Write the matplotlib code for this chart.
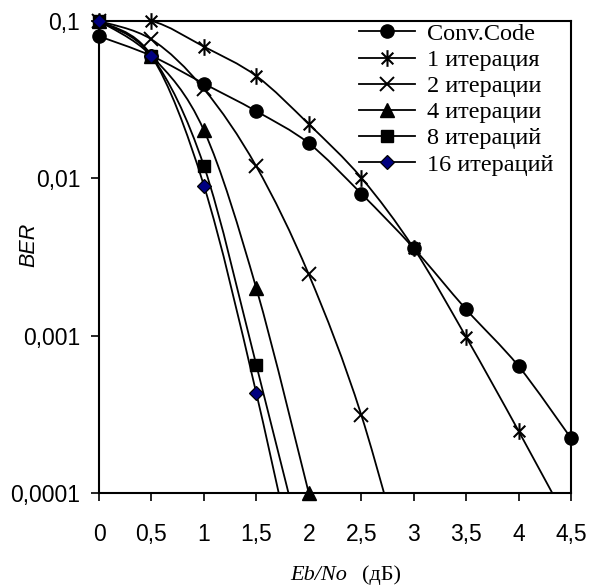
import numpy as np
import matplotlib
matplotlib.use("Agg")
import matplotlib.pyplot as plt
from matplotlib.path import Path
from matplotlib.patches import PathPatch
from matplotlib.lines import Line2D
from matplotlib.ticker import FixedLocator, NullLocator

# Eb/No, dB
ebno = [0, 0.5, 1, 1.5, 2, 2.5, 3, 3.5, 4, 4.5]

# BER values (last points of the turbo curves lie below the axis)
ber_conv = [0.08, 0.06, 0.04, 0.0267, 0.0167, 0.008, 0.0036, 0.00147, 0.00064, 0.000223]
ber_it1 = [0.1, 0.1, 0.0687, 0.0447, 0.0221, 0.0101, 0.0036, 0.00098, 0.000248, 6e-5]
ber_it2 = [0.1, 0.0764, 0.037, 0.0119, 0.00245, 0.000314, 2e-5]
ber_it4 = [0.1, 0.06, 0.0202, 0.002, 0.0001]
ber_it8 = [0.1, 0.06, 0.012, 0.00065, 3e-5]
ber_it16 = [0.1, 0.06, 0.009, 0.00043, 1.3e-5]

labels = ["Conv.Code", "1 итерация", "2 итерации", "4 итерации",
          "8 итераций", "16 итераций"]

xticks = [0, 0.5, 1, 1.5, 2, 2.5, 3, 3.5, 4, 4.5]
xtick_labels = ["0", "0,5", "1", "1,5", "2", "2,5", "3", "3,5", "4", "4,5"]
yticks = [0.0001, 0.001, 0.01, 0.1]
ytick_labels = ["0,0001", "0,001", "0,01", "0,1"]

YMIN, YMAX = 0.0001, 0.1

# Excel-like asterisk: vertical bar plus an X
star = Path([(0, -1), (0, 1), (-0.7, -0.7), (0.7, 0.7), (-0.7, 0.7), (0.7, -0.7)],
            [Path.MOVETO, Path.LINETO] * 3)


def smooth_path(x, y):
    # Catmull-Rom style bezier through the points, in log10(y) space
    px = np.asarray(x, float)
    py = np.log10(np.asarray(y, float))
    n = len(px)
    verts = [(px[0], py[0])]
    codes = [Path.MOVETO]
    for i in range(n - 1):
        i0 = max(i - 1, 0)
        i3 = min(i + 2, n - 1)
        c1 = (px[i] + (px[i + 1] - px[i0]) / 6, py[i] + (py[i + 1] - py[i0]) / 6)
        c2 = (px[i + 1] - (px[i3] - px[i]) / 6, py[i + 1] - (py[i3] - py[i]) / 6)
        verts += [c1, c2, (px[i + 1], py[i + 1])]
        codes += [Path.CURVE4] * 3
    verts = np.array(verts)
    verts[:, 1] = 10 ** verts[:, 1]
    return Path(verts, codes)


series = [
    (ber_conv, dict(marker="o", markersize=9.5, markerfacecolor="black")),
    (ber_it1, dict(marker=star, markersize=12, markerfacecolor="none", markeredgewidth=1.5)),
    (ber_it2, dict(marker="x", markersize=10, markeredgewidth=1.4)),
    (ber_it4, dict(marker="^", markersize=9.5, markerfacecolor="black")),
    (ber_it8, dict(marker="s", markersize=9, markerfacecolor="black")),
    (ber_it16, dict(marker="D", markersize=7.2, markerfacecolor="#000080",
                    markeredgewidth=0.9)),
]

fig = plt.figure(figsize=(5.91, 5.86), dpi=100)
ax = fig.add_axes([99 / 591, 1 - 493 / 586, 472 / 591, 472 / 586])
ax.set_yscale("log")
ax.set_xlim(0, 4.5)
ax.set_ylim(YMIN, YMAX)

handles = []
for vals, mk in series:
    xs = ebno[:len(vals)]
    ax.add_patch(PathPatch(smooth_path(xs, vals), fill=False, edgecolor="black",
                           linewidth=1.3, zorder=2))
    shown = np.where(np.array(vals) >= YMIN * 0.999, vals, np.nan)
    ax.plot(xs, shown, linestyle="none", color="black", markeredgecolor="black",
            clip_on=False, zorder=3, **mk)
    handles.append(Line2D([], [], color="black", linewidth=1.3,
                          markeredgecolor="black", **mk))

ax.xaxis.set_major_locator(FixedLocator(xticks))
ax.set_xticklabels(xtick_labels)
ax.yaxis.set_major_locator(FixedLocator(yticks))
ax.yaxis.set_minor_locator(NullLocator())
ax.set_yticklabels(ytick_labels)

for lab in ax.get_xticklabels() + ax.get_yticklabels():
    lab.set_family("Liberation Sans")
    lab.set_fontsize(16.5)
ax.tick_params(axis="x", direction="out", length=5.5, width=1.2, pad=16)
ax.tick_params(axis="y", direction="out", length=5.5, width=1.2, pad=8)

for sp in ax.spines.values():
    sp.set_linewidth(1.5)

ax.text(-0.148, 0.525, "BER", transform=ax.transAxes, rotation=90,
        ha="center", va="center", fontsize=15.5, style="italic",
        family="Liberation Sans")
ax.text(0.525, -0.174, "Eb/No", transform=ax.transAxes, ha="right", va="center",
        fontsize=16, style="italic", family="Liberation Serif")
ax.text(0.558, -0.174, "(дБ)", transform=ax.transAxes, ha="left", va="center",
        fontsize=16, family="Liberation Serif")

leg = ax.legend(handles, labels, loc="upper right", bbox_to_anchor=(0.962, 0.996),
                frameon=False, prop={"family": "Liberation Serif", "size": 17.5},
                handlelength=2.3, handletextpad=0.5, labelspacing=0.17,
                borderaxespad=0.0, borderpad=0.0)

fig.savefig("out.png", dpi=100)
